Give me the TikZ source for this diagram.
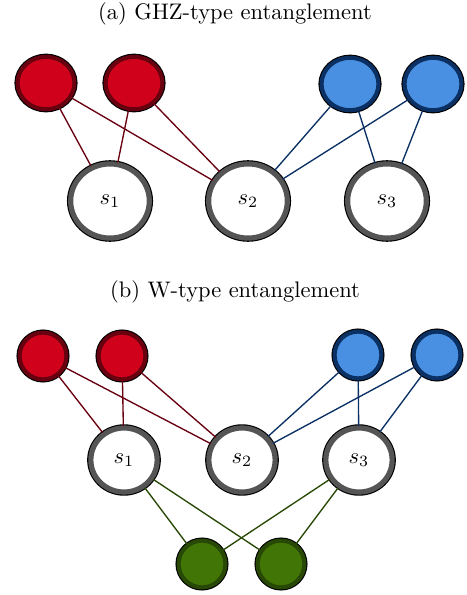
\documentclass[tikz,border=0pt]{standalone}
\usetikzlibrary{shapes.geometric}

\definecolor{qred}{RGB}{208,2,27}
\definecolor{qredd}{RGB}{105,0,16}
\definecolor{qblue}{RGB}{74,144,226}
\definecolor{qblued}{RGB}{10,48,100}
\definecolor{qgreen}{RGB}{65,117,5}
\definecolor{qgreend}{RGB}{40,72,5}
\definecolor{qgray}{RGB}{85,85,85}

\begin{document}
\begin{tikzpicture}[x=0.445pt, y=-0.445pt, line cap=round,
    party/.style={ellipse, line width=1.8pt, preaction={draw=black, line width=2.8pt}, inner sep=0pt},
    sys/.style={ellipse, draw=qgray, line width=2.3pt, preaction={draw=black, line width=3.3pt}, fill=white, inner sep=0pt},
    redq/.style={party, draw=qredd, fill=qred},
    blueq/.style={party, draw=qblued, fill=qblue},
    greenq/.style={party, draw=qgreend, fill=qgreen},
    redl/.style={draw=qredd, line width=0.6pt},
    bluel/.style={draw=qblued, line width=0.6pt},
    greenl/.style={draw=qgreend, line width=0.6pt}]

  \useasboundingbox (0,0) rectangle (467,595);

  % (a) GHZ-type
  \node (ta) at (235,14) {(a) GHZ-type entanglement};

  \foreach \n/\x in {1/110, 2/248, 3/387}
    \node[sys, minimum width=35pt, minimum height=33pt] (sa\n) at (\x,201) {$s_{\n}$};
  \foreach \n/\x in {1/46, 2/134}
    \node[redq, minimum width=25.3pt, minimum height=23.3pt] (ra\n) at (\x,83) {};
  \foreach \n/\x in {1/350, 2/433}
    \node[blueq, minimum width=25.3pt, minimum height=23.3pt] (ba\n) at (\x,84) {};

  \foreach \r in {ra1,ra2}
    \foreach \s in {sa1,sa2}
      \draw[redl] (\r) -- (\s);
  \foreach \b in {ba1,ba2}
    \foreach \s in {sa2,sa3}
      \draw[bluel] (\b) -- (\s);

  % (b) W-type
  \node (tb) at (235,292) {(b) W-type entanglement};

  \foreach \n/\x in {1/124, 2/242, 3/359}
    \node[sys, minimum width=29.5pt, minimum height=28.5pt] (sb\n) at (\x,460) {$s_{\n}$};
  \foreach \n/\x in {1/43, 2/122}
    \node[redq, minimum size=20.8pt] (rb\n) at (\x,356) {};
  \foreach \n/\x in {1/358, 2/437}
    \node[blueq, minimum size=20.8pt] (bb\n) at (\x,355) {};
  \foreach \n/\x in {1/202, 2/281}
    \node[greenq, minimum size=20.8pt] (gb\n) at (\x,564) {};

  \foreach \r in {rb1,rb2}
    \foreach \s in {sb1,sb2}
      \draw[redl] (\r) -- (\s);
  \foreach \b in {bb1,bb2}
    \foreach \s in {sb2,sb3}
      \draw[bluel] (\b) -- (\s);
  \foreach \g in {gb1,gb2}
    \foreach \s in {sb1,sb3}
      \draw[greenl] (\s) -- (\g);

\end{tikzpicture}
\end{document}
